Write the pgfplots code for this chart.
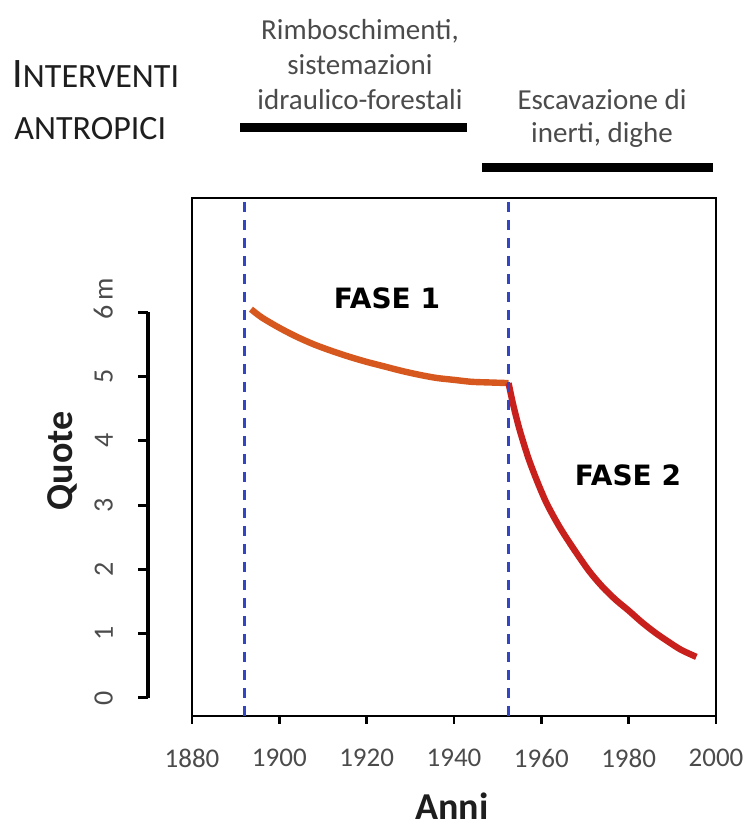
\documentclass[border=0pt]{standalone}
\usepackage{pgfplots}
\pgfplotsset{compat=1.18}
\usepackage{fontspec}
\setmainfont{Carlito}
\newfontfamily\fasefont{DejaVu Sans}
\definecolor{phaseone}{RGB}{214,88,30}
\definecolor{phasetwo}{RGB}{200,32,28}
\definecolor{dashblue}{RGB}{50,70,195}
\definecolor{txtgray}{RGB}{75,75,75}
\definecolor{darktxt}{RGB}{30,30,30}
\begin{document}
\begin{tikzpicture}
\path[use as bounding box] (0,0) rectangle (372.5pt,417pt);
% main axis
\begin{axis}[
  at={(96pt,59pt)}, anchor=south west,
  scale only axis, width=262pt, height=259pt,
  xmin=1880, xmax=2000, ymin=-0.28, ymax=7.78,
  xtick={1880,1900,1920,1940,1960,1980,2000},
  ytick=\empty,
  xtick pos=bottom,
  tick align=outside,
  major tick length=4pt,
  axis line style={line width=1.2pt},
  xtick style={line width=1.2pt, black},
  xticklabel style={font=\fontsize{13.5}{15}\selectfont, text=txtgray, yshift=-9pt},
  /pgf/number format/1000 sep={},
  /pgf/number format/assume math mode=true,
  clip=false,
]
\addplot[phaseone, line width=3.2pt, smooth] coordinates {
 (1893.5,6.05) (1896,5.92) (1900,5.76) (1904,5.62) (1908,5.50) (1912,5.40)
 (1916,5.31) (1920,5.23) (1924,5.16) (1928,5.09) (1932,5.03) (1936,4.98)
 (1940,4.95) (1944,4.92) (1948,4.91) (1952.5,4.90)
};
\addplot[phasetwo, line width=3.2pt, smooth] coordinates {
 (1952.5,4.90) (1953.5,4.58) (1955,4.18) (1957,3.74) (1959,3.38) (1961,3.06)
 (1963,2.80) (1965,2.57) (1968,2.26) (1971,1.97) (1974,1.73) (1977,1.53)
 (1980,1.36) (1983,1.18) (1986,1.02) (1989,0.88) (1992,0.75) (1995.5,0.64)
};
\addplot[dashblue, line width=1.4pt, dash pattern=on 5pt off 4pt] coordinates {(1892,-0.28) (1892,7.78)};
\addplot[dashblue, line width=1.4pt, dash pattern=on 5pt off 4pt] coordinates {(1952.5,-0.28) (1952.5,7.78)};
\end{axis}
% separate y axis
\begin{axis}[
  at={(74pt,68pt)}, anchor=south west,
  scale only axis, width=10pt, height=193pt,
  xmin=0, xmax=1, ymin=0, ymax=6,
  axis x line=none, axis y line=left,
  y axis line style={-, line width=1.6pt},
  ytick={0,1,2,3,4,5,6},
  yticklabels={0,1,2,3,4,5,6\rlap{\,m}},
  tick align=outside,
  major tick length=5pt,
  ytick style={line width=1.5pt, black},
  yticklabel style={rotate=90, anchor=south, font=\fontsize{14}{16}\selectfont, text=txtgray, yshift=9pt},
  /pgf/number format/assume math mode=true,
]
\addplot[draw=none] coordinates {(0,0) (1,6)};
\end{axis}
% labels
\node[anchor=base, font=\fontsize{19}{22}\selectfont\bfseries, text=darktxt] at (226pt,7pt) {Anni};
\node[rotate=90, font=\fontsize{19}{22}\selectfont\bfseries, text=darktxt] at (31pt,186.5pt) {Quote};
\node[font=\fasefont\fontsize{14}{16}\selectfont\bfseries] at (193.5pt,268pt) {FASE 1};
\node[font=\fasefont\fontsize{14}{16}\selectfont\bfseries] at (314pt,179.5pt) {FASE 2};
% top annotations
\node[anchor=base west, text=darktxt, inner sep=0pt] at (6pt,373pt) {{\fontsize{21}{24}\selectfont I}{\fontsize{17}{20}\selectfont NTERVENTI}};
\node[anchor=base west, text=darktxt, inner sep=0pt] at (7pt,347pt) {\fontsize{17}{20}\selectfont ANTROPICI};
\begin{scope}[every node/.style={anchor=base, text=txtgray, inner sep=0pt, font=\fontsize{14.5}{17}\selectfont}]
\node at (180pt,397pt) {Rimboschimenti,};
\node at (180pt,379.5pt) {sistemazioni};
\node at (180pt,362pt) {idraulico-forestali};
\node at (301pt,362pt) {Escavazione di};
\node at (301pt,345.5pt) {inerti, dighe};
\end{scope}
\draw[line width=4.5pt] (120pt,353pt) -- (233.5pt,353pt);
\draw[line width=4.5pt] (241pt,333pt) -- (356.5pt,333pt);
\end{tikzpicture}
\end{document}
